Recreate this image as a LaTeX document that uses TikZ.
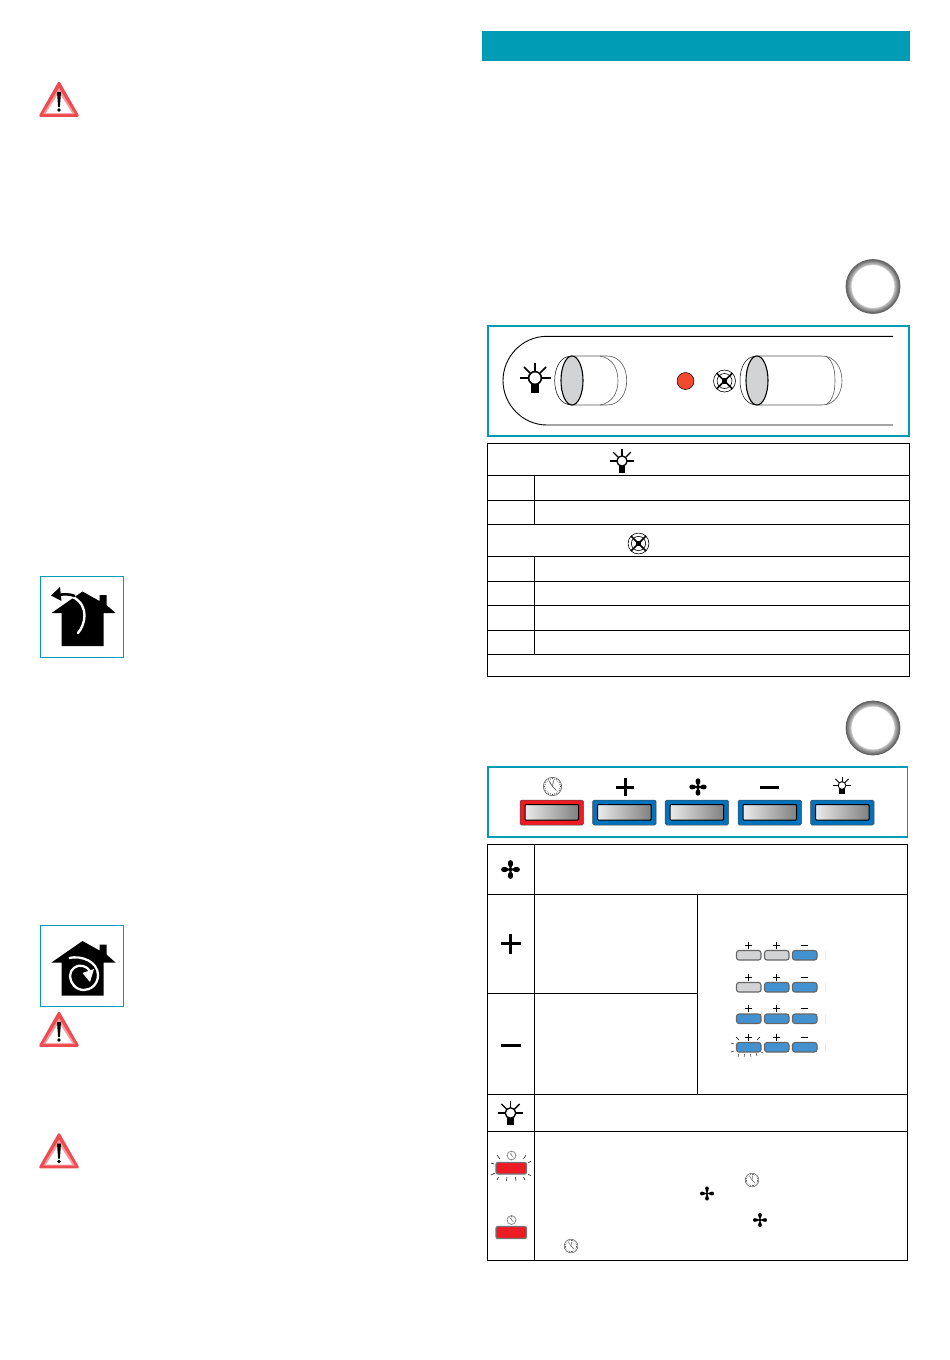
\documentclass[tikz,border=0pt]{standalone}
\definecolor{teal1}{HTML}{009BB4}
\definecolor{redbtn}{HTML}{ED1C24}
\definecolor{bluebtn}{HTML}{0072BC}
\definecolor{ltblue}{HTML}{4292D2}
\definecolor{ltgray}{HTML}{D1D3D4}
\definecolor{warnred}{HTML}{EE4A50}
\definecolor{dotred}{HTML}{F24A2E}
\def\bulblw{1.6pt}
\def\clockshade{black!75}
\def\clocklw{0.6pt}
\tikzset{
  x=1pt,y=-1pt,
  tealbox/.style={draw=teal1,line width=1.6pt},
  tableline/.style={draw=black,line width=1pt},
  thinc/.style={draw=black!65,line width=0.6pt},
  bulb/.pic={
    \draw[line width=\bulblw,fill=white] (0,0) circle[radius=6.4];
    \fill (-4.2,6) rectangle (4.2,14.5);
    \foreach \a/\b/\c/\d in {0/-6.5/0/-15, -5/-5/-11/-11, 5/-5/11/-11, -6.5/0/-15.5/0, 6.5/0/15.5/0}
      \draw[line width=\bulblw] (\a,\b) -- (\c,\d);
  },
  fanblades/.pic={
    \foreach \r in {0,90,180,270}
      \fill[rotate=\r] (0,-0.5) -- (-1.1,-2.5) .. controls (-3.3,-4.5) and (-3.1,-9.4) .. (0,-9.4) .. controls (3.1,-9.4) and (3.3,-4.5) .. (1.1,-2.5) -- cycle;
    \fill (0,0) circle[radius=2.2];
  },
  fanoff/.pic={
    \draw[line width=0.6pt] (0,0) circle[radius=11];
    \draw[line width=0.6pt] (0,0) circle[radius=7.5];
    \draw[line width=1.7pt] (-7.8,-7.8) -- (7.8,7.8) (-7.8,7.8) -- (7.8,-7.8);
    \fill (-2.8,-2.8) rectangle (2.8,2.8);
  },
  clockic/.pic={
    \draw[line width=0.5pt,\clockshade] (0,0) circle[radius=9.2];
    \foreach \a in {0,15,...,345}
      \draw[line width=\clocklw,\clockshade] (\a:7.2) -- (\a:8.2);
    \draw[line width=\clocklw,\clockshade] (0,0) -- (-3.5,-5.5);
    \draw[line width=\clocklw,\clockshade] (0,0) -- (1,-6);
    \draw[line width=\clocklw,\clockshade] (0,0) -- (4,4);
  },
  warning/.pic={
    \fill[warnred,draw=warnred,line width=2.5pt,line join=round] (0,1) -- (18.5,33.5) -- (-18.5,33.5) -- cycle;
    \fill[warnred!55!white] (0,6) -- (15.8,32) -- (-15.8,32) -- cycle;
    \fill[white] (0,10.5) -- (13,31) -- (-13,31) -- cycle;
    \fill (-2,10) -- (2,10) -- (0.9,25) -- (-0.9,25) -- cycle;
    \fill (0,28) circle[radius=1.8];
  },
  house/.pic={
    \fill (0,0) -- (17,9.5) -- (17,3.5) -- (24,3.5) -- (24,13.5) -- (33,21.5)
       -- (21,21.5) -- (21,54.5) -- (-21,54.5) -- (-21,21.5) -- (-31,21.5) -- cycle;
  }
}
\newcommand{\mybutton}[3]{% x, y (left, top), colour
  \fill[#3,draw=black!70,line width=0.5pt,rounded corners=1.5pt] (#1,#2) rectangle ++(63.5,25);
  \shade[left color=white!92!black,right color=black!50,draw=black,line width=1pt,rounded corners=0.8pt] (#1+5,#2+4.5) rectangle ++(53.5,15.5);
}
\newcommand{\smallbtn}[3]{% x, y, colour
  \fill[#3,draw=black!60,line width=1.1pt,rounded corners=2.5pt] (#1,#2) rectangle ++(24.5,9.5);
}
\newcommand{\smallplus}[2]{\draw[line width=0.8pt] (#1-3.5,#2) -- (#1+3.5,#2) (#1,#2-3.5) -- (#1,#2+3.5);}
\newcommand{\smallminus}[2]{\draw[line width=0.8pt] (#1-3.5,#2) -- (#1+3.5,#2);}
\newcommand{\ringmark}[2]{%
  \foreach \rad/\gv in {27.4/62,26.9/60,26.4/58,25.9/54,25.4/50,24.9/46,24.4/42,23.9/38,23.4/34,22.9/30,22.4/26,21.9/18,21.4/0}
    \fill[black!\gv] (#1,#2) circle[radius=\rad];
}
\begin{document}
\begin{tikzpicture}
\useasboundingbox[fill=white] (0,0) rectangle (950,1360);
% header band
\fill[teal1] (482,31) rectangle (910,61);
% warnings
\pic at (59,82) {warning};
\pic at (59,1012) {warning};
\pic at (59,1133.5) {warning};
% house boxes
\draw[draw=teal1,line width=0.9pt] (40.5,576.5) rectangle (123.5,657.5);
\draw[draw=teal1,line width=0.9pt] (40.5,925.5) rectangle (123.5,1006.5);
\pic at (82.5,591.5) {house};
\draw[white,line width=2.4pt,line cap=round] (78,633) .. controls (85,625) and (90,606) .. (73,597);
\draw[white,line width=5pt] (75,596.5) .. controls (70,593.5) and (64,594) .. (60,595);
\draw[line width=2.6pt] (75,596) .. controls (70,594) and (64,594) .. (58,595);
\fill (51,595.5) -- (60,587) -- (61.5,601) -- cycle;
\pic at (82.5,941) {house};
\draw[white,line width=2.3pt] (69,958) .. controls (82,955) and (98,962) .. (98,975) .. controls (98,985) and (90,990) .. (84,990) .. controls (76,990) and (70,983) .. (70,976) .. controls (70,969) and (77,964) .. (83,966) .. controls (86,967) and (88,968) .. (90,971);
\fill[white] (94,969) -- (82.5,973) -- (90,982) -- cycle;
% round marks
\ringmark{873}{286.5}
\ringmark{873}{728}
% panel 1
\draw[tealbox] (488,326) rectangle (909,436);
\draw[line width=0.9pt] (893,336.3) -- (547,336.3) .. controls (522,336.3) and (503,357) .. (503,380.6) .. controls (503,404) and (522,425) .. (547,425) -- (893,425);
% knob 1
\draw[thinc] (572,356) -- (607,356) .. controls (620,356) and (626.7,368) .. (626.7,380.5) .. controls (626.7,393) and (620,405) .. (607,405) -- (572,405);
\draw[thinc] (600,356) .. controls (612,358) and (618,368) .. (618,380.5) .. controls (618,393) and (612,403) .. (600,405);
\draw[black,line width=0.5pt] (572,356) .. controls (560,356) and (554.7,368) .. (554.7,380.5) .. controls (554.7,393) and (560,405) .. (572,405);
\draw[line width=1.1pt,fill=ltgray] (572,380.5) ellipse[x radius=11,y radius=24.5];
% knob 2
\draw[thinc] (757,356) -- (822,356) .. controls (835,356) and (842,368) .. (842,380.5) .. controls (842,393) and (835,405) .. (822,405) -- (757,405);
\draw[thinc] (826,356) .. controls (832,360) and (835,368) .. (835,380.5) .. controls (835,393) and (832,401) .. (826,405);
\draw[black,line width=0.5pt] (757,356) .. controls (745,356) and (740,368) .. (740,380.5) .. controls (740,393) and (745,405) .. (757,405);
\draw[line width=1.1pt,fill=ltgray] (757,380.5) ellipse[x radius=11,y radius=24.5];
% panel icons
\pic at (535,378) {bulb};
\fill[dotred,draw=black,line width=0.5pt] (685.5,381) circle[radius=8.5];
\pic at (724.5,381) {fanoff};
% table 1
\draw[tableline] (487.5,443.5) rectangle (909.5,676.5);
\foreach \yy in {475,500,524.5,556.5,581,605.5,630,654.5}
  \draw[tableline] (487.5,\yy) -- (909.5,\yy);
\draw[tableline] (534.5,475) -- (534.5,524.5);
\draw[tableline] (534.5,556.5) -- (534.5,654.5);
\begin{scope}\def\bulblw{1.3pt}
\pic[scale=0.8] at (622,461) {bulb};
\end{scope}
\pic[scale=0.95] at (638.5,543.5) {fanoff};
% panel 2
\draw[tealbox] (488,767) rectangle (907.5,837);
\mybutton{520}{800}{redbtn}
\mybutton{592.7}{800}{bluebtn}
\mybutton{665.2}{800}{bluebtn}
\mybutton{738}{800}{bluebtn}
\mybutton{810.5}{800}{bluebtn}
\pic at (552.5,786.5) {clockic};
\draw[line width=3pt] (616,787) -- (634,787) (625,778) -- (625,796);
\pic[scale=0.92] at (698,787) {fanblades};
\draw[line width=3pt] (760,787) -- (778.5,787);
\begin{scope}\def\bulblw{0.9pt}
\pic[scale=0.6] at (842,785.5) {bulb};
\end{scope}
% table 2
\draw[tableline] (487.5,844.5) rectangle (907.5,1260.5);
\foreach \yy in {894.5,1094.5,1131.5}
  \draw[tableline] (487.5,\yy) -- (907.5,\yy);
\draw[tableline] (487.5,993.5) -- (697.5,993.5);
\draw[tableline] (534.5,844.5) -- (534.5,1260.5);
\draw[tableline] (697.5,894.5) -- (697.5,1094.5);
\pic at (510.5,869.5) {fanblades};
\draw[line width=3.2pt] (500.5,943.5) -- (520.5,943.5) (510.5,933.5) -- (510.5,953.5);
\draw[line width=3.2pt] (500.5,1045.5) -- (520.5,1045.5);
\begin{scope}\def\bulblw{1.4pt}
\pic[scale=0.82] at (510.5,1113) {bulb};
\end{scope}
% blinking red button
\fill[redbtn,draw=black!55,line width=1.3pt,rounded corners=2pt] (496,1162.5) rectangle (526.5,1174);
\begin{scope}\def\clockshade{black!50}\def\clocklw{0.4pt}
\pic[scale=0.5] at (511.5,1155.5) {clockic};
\end{scope}
\foreach \a/\b/\c/\d in {497/1155/500/1159, 491/1163/494/1164, 491/1175/495/1173, 497/1180/498.5/1177, 506.5/1181/507/1177, 516/1181/515.5/1177, 525/1180/523.5/1177, 531/1176/528/1174, 531/1161/528/1163, 526/1155/523.5/1159}
  \draw[line width=0.5pt] (\a,\b) -- (\c,\d);
% steady red button
\fill[redbtn,draw=black!55,line width=1.3pt,rounded corners=2pt] (496,1226.5) rectangle (526.5,1238.5);
\begin{scope}\def\clockshade{black!50}\def\clocklw{0.4pt}
\pic[scale=0.5] at (511.5,1220) {clockic};
\end{scope}
% small buttons
\smallbtn{736.5}{950.5}{ltgray}\smallbtn{764.5}{950.5}{ltgray}\smallbtn{792.5}{950.5}{ltblue}
\smallbtn{736.5}{982.5}{ltgray}\smallbtn{764.5}{982.5}{ltblue}\smallbtn{792.5}{982.5}{ltblue}
\smallbtn{736.5}{1014}{ltblue}\smallbtn{764.5}{1014}{ltblue}\smallbtn{792.5}{1014}{ltblue}
\smallbtn{736.5}{1042.5}{ltblue}\smallbtn{764.5}{1042.5}{ltblue}\smallbtn{792.5}{1042.5}{ltblue}
\foreach \yy in {945,977,1008.5,1037}{
  \smallplus{748.5}{\yy}\smallplus{776.5}{\yy}\smallminus{804.5}{\yy}
}
\foreach \yy in {950.5,982.5,1014,1042.5}
  \draw[black!8,line width=0.5pt] (825.5,\yy) -- ++(0,9.5);
\foreach \a/\b/\c/\d in {736/1037/739/1040, 731/1043/734/1044, 731/1052/734/1051, 738/1057/738.5/1054, 744/1057/744.5/1054, 751/1057/750.5/1054, 757/1056/756/1053, 763/1053/761/1052, 760/1037/757/1040}
  \draw[line width=0.4pt] (\a,\b) -- (\c,\d);
% inline icons
\begin{scope}\def\clockshade{black!65}\def\clocklw{0.45pt}
\pic[scale=0.74] at (752,1180) {clockic};
\pic[scale=0.74] at (571,1246) {clockic};
\end{scope}
\pic[scale=0.75] at (707,1193.5) {fanblades};
\pic[scale=0.75] at (760,1220) {fanblades};
\end{tikzpicture}
\end{document}
